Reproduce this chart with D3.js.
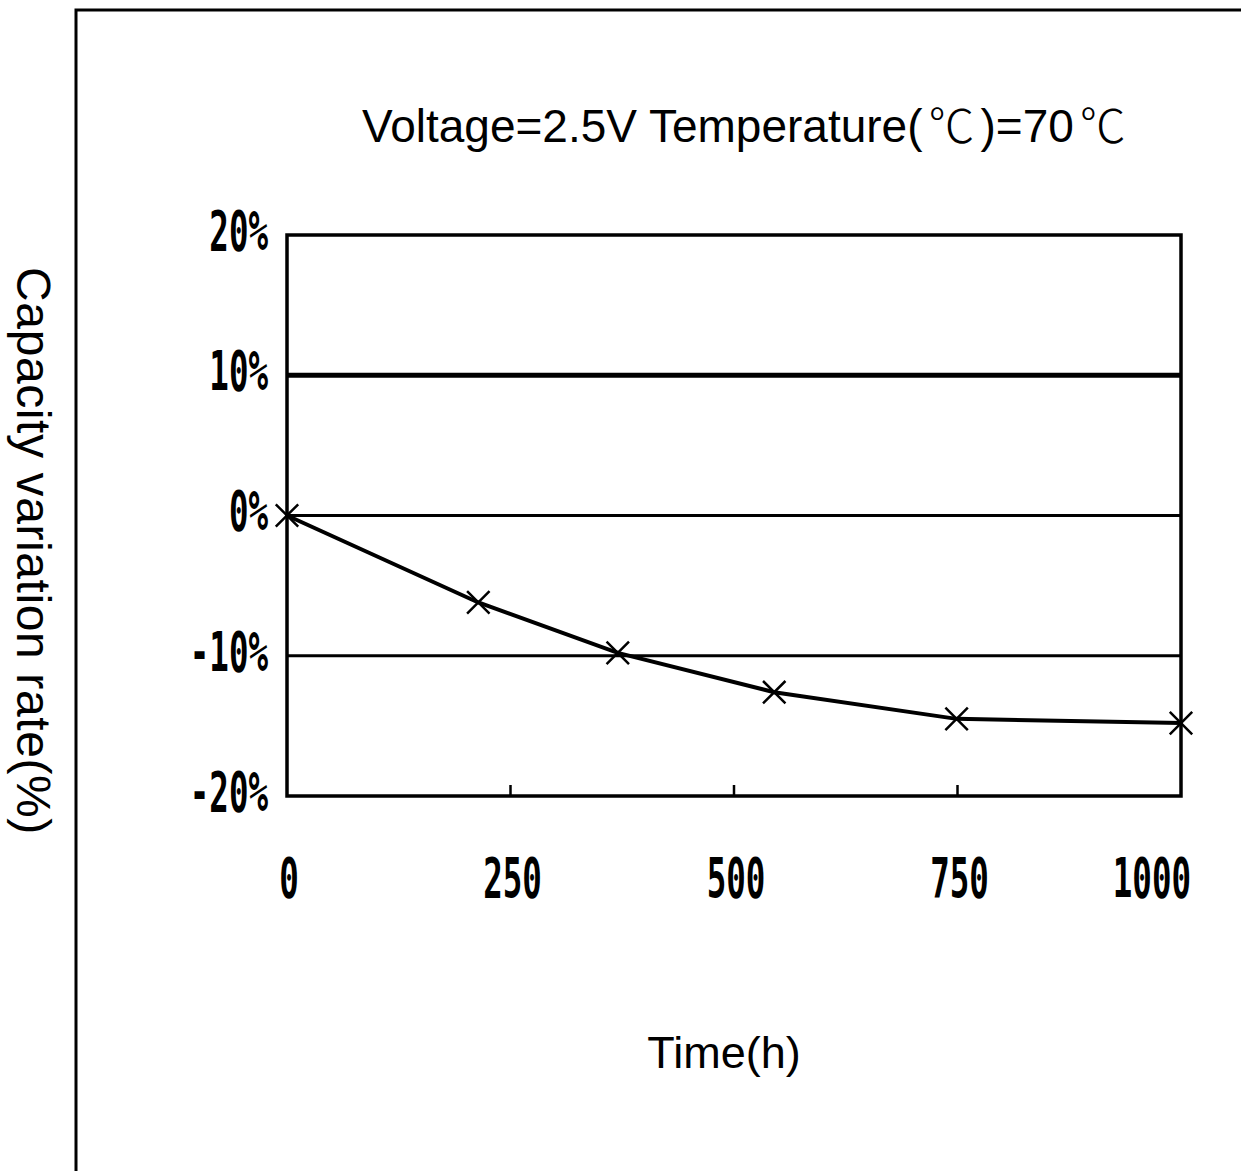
<!DOCTYPE html>
<html>
<head>
<meta charset="utf-8">
<script src="https://cdn.jsdelivr.net/npm/d3@7"></script>
<style>
  html, body { margin: 0; padding: 0; background: #fff; }
  svg { display: block; }
</style>
</head>
<body>
<div id="chart"></div>
<script>
// Capacity variation over time at 2.5V / 70°C
const times = [0, 214, 370, 545, 749, 1000];
const variation = [0, -6.2, -9.8, -12.6, -14.5, -14.8];
const xTicks = [0, 250, 500, 750, 1000];
const yTicks = [20, 10, 0, -10, -20];
const yTickLabels = ['20%', '10%', '0%', '-10%', '-20%'];
// title pieces; the degree-Celsius sign is set in a CJK face like the original
const titleParts = ['Voltage=2.5V Temperature(', '\u2103', ')=70', '\u2103'];

const width = 1241, height = 1171;
const plot = { left: 287, right: 1181, top: 235, bottom: 796 };

const svg = d3.select('#chart').append('svg')
  .attr('width', width)
  .attr('height', height);

svg.append('rect')
  .attr('width', width).attr('height', height)
  .attr('fill', '#fff');

// outer frame (left and top edge)
svg.append('path')
  .attr('d', `M76,${height} V10 H${width}`)
  .attr('fill', 'none')
  .attr('stroke', '#000').attr('stroke-width', 3);

const x = d3.scaleLinear().domain([0, 1000]).range([plot.left, plot.right]);
const y = d3.scaleLinear().domain([-20, 20]).range([plot.bottom, plot.top]);

// horizontal gridlines (inner ones)
yTicks.filter(v => v !== 20 && v !== -20).forEach(v => {
  svg.append('line')
    .attr('x1', plot.left).attr('x2', plot.right)
    .attr('y1', y(v)).attr('y2', y(v))
    .attr('stroke', '#000')
    .attr('stroke-width', v === 10 ? 5 : 3);
});

// plot box
svg.append('rect')
  .attr('x', plot.left).attr('y', plot.top)
  .attr('width', plot.right - plot.left)
  .attr('height', plot.bottom - plot.top)
  .attr('fill', 'none')
  .attr('stroke', '#000').attr('stroke-width', 3.5);

// small inner ticks on the time axis
xTicks.slice(1, -1).forEach(t => {
  svg.append('line')
    .attr('x1', x(t)).attr('x2', x(t))
    .attr('y1', plot.bottom).attr('y2', plot.bottom - 11)
    .attr('stroke', '#000').attr('stroke-width', 2.5);
});

// pixel-style tick labels: condensed mono font
const tickFont = '"DejaVu Sans Mono", "Liberation Mono", monospace';
const squeeze = 0.58;
const tickSize = 56;

yTicks.forEach((v, i) => {
  svg.append('text')
    .attr('transform', `translate(268,${y(v) - 4}) scale(${squeeze},1)`)
    .attr('text-anchor', 'end')
    .attr('dominant-baseline', 'central')
    .attr('font-family', tickFont)
    .attr('font-weight', 'bold')
    .attr('font-size', tickSize)
    .attr('fill', '#000')
    .text(yTickLabels[i]);
});

xTicks.forEach((t, i) => {
  const last = i === xTicks.length - 1;
  svg.append('text')
    .attr('transform', `translate(${last ? x(t) + 10 : x(t) + 2},897) scale(${squeeze},1)`)
    .attr('text-anchor', last ? 'end' : 'middle')
    .attr('font-family', tickFont)
    .attr('font-weight', 'bold')
    .attr('font-size', tickSize)
    .attr('fill', '#000')
    .text(t);
});

// data line
const pts = times.map((t, i) => [t, variation[i]]);
const line = d3.line()
  .x(d => x(d[0]))
  .y(d => y(d[1]));

svg.append('path')
  .datum(pts)
  .attr('d', line)
  .attr('fill', 'none')
  .attr('stroke', '#000')
  .attr('stroke-width', 4);

// X markers
svg.selectAll('.mark')
  .data(pts)
  .join('path')
  .attr('class', 'mark')
  .attr('transform', d => `translate(${x(d[0])},${y(d[1])})`)
  .attr('d', d3.symbol(d3.symbolTimes, 330))
  .attr('fill', 'none')
  .attr('stroke', '#000')
  .attr('stroke-width', 2.5);

// titles
const labelFont = '"Liberation Sans", Arial, sans-serif';
const cjkFont = '"Noto Sans CJK SC", "Noto Sans CJK JP", sans-serif';

const titleText = svg.append('text')
  .attr('x', 362).attr('y', 142)
  .attr('font-family', labelFont)
  .attr('font-size', 46)
  .attr('fill', '#000');
titleParts.forEach((s, i) => {
  const tsp = titleText.append('tspan').text(s);
  if (i > 0) tsp.attr('dx', 6);
  if (s === '\u2103') tsp.attr('font-family', cjkFont).attr('font-weight', 300);
});

svg.append('text')
  .attr('x', 724).attr('y', 1068)
  .attr('text-anchor', 'middle')
  .attr('font-family', labelFont)
  .attr('font-size', 45)
  .attr('fill', '#000')
  .text('Time(h)');

svg.append('text')
  .attr('transform', 'translate(17,551) rotate(90)')
  .attr('text-anchor', 'middle')
  .attr('font-family', labelFont)
  .attr('font-size', 48)
  .attr('letter-spacing', 0.6)
  .attr('fill', '#000')
  .text('Capacity variation rate(%)');
</script>
</body>
</html>
